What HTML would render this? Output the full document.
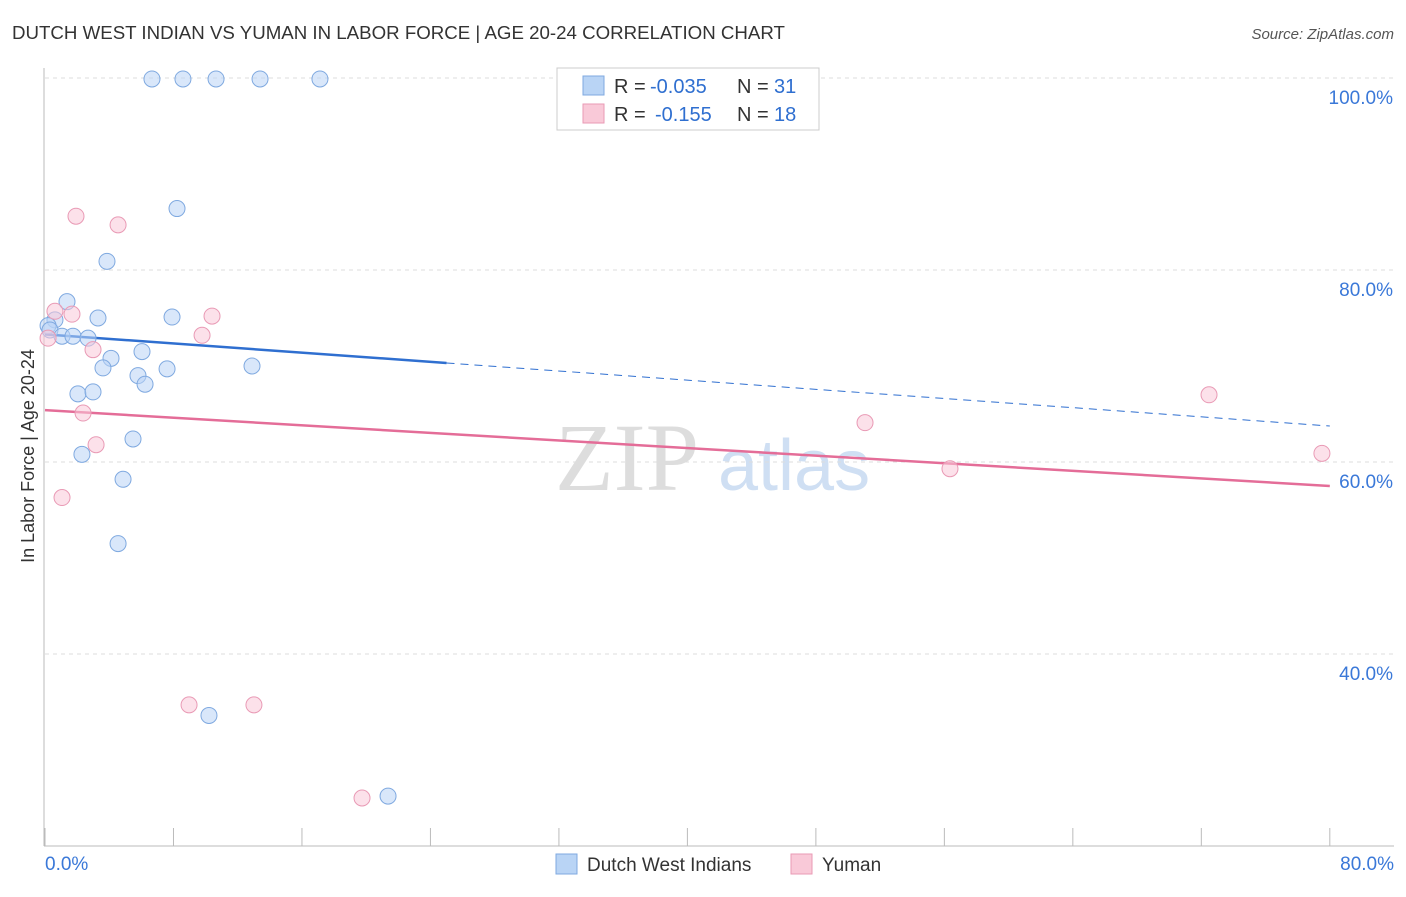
<!DOCTYPE html>
<html><head><meta charset="utf-8"><style>
body{margin:0;background:#fff;font-family:"Liberation Sans",sans-serif}
</style></head><body>
<svg id="chart" width="1406" height="892" xmlns="http://www.w3.org/2000/svg" font-family="Liberation Sans, sans-serif">
<text x="12" y="39" font-size="18.7" fill="#333">DUTCH WEST INDIAN VS YUMAN IN LABOR FORCE | AGE 20-24 CORRELATION CHART</text>
<text x="1394" y="39" font-size="15" fill="#555" text-anchor="end" font-style="italic">Source: ZipAtlas.com</text>
<text x="555" y="490" font-size="96" fill="#ddd" font-family="Liberation Serif, serif">ZIP</text>
<text x="718" y="490" font-size="72" fill="#cfdff3">atlas</text>
<text transform="translate(34,456) rotate(-90)" font-size="18" fill="#333" text-anchor="middle">In Labor Force | Age 20-24</text>
<g id="grid"></g><g id="trends"></g><g id="points"></g>
<g>
<rect x="557" y="68" width="262" height="62" fill="#fff" stroke="#ccc"/>
<rect x="583" y="76" width="21" height="19" fill="#b9d4f5" stroke="#7fa9e0"/>
<rect x="583" y="104" width="21" height="19" fill="#f9c9d8" stroke="#e99ab5"/>
<text x="614" y="93" font-size="20" fill="#333">R =</text>
<text x="650" y="93" font-size="20" fill="#2f6fd0">-0.035</text>
<text x="737" y="93" font-size="20" fill="#333">N =</text>
<text x="774" y="93" font-size="20" fill="#2f6fd0">31</text>
<text x="614" y="121" font-size="20" fill="#333">R =</text>
<text x="655" y="121" font-size="20" fill="#2f6fd0">-0.155</text>
<text x="737" y="121" font-size="20" fill="#333">N =</text>
<text x="774" y="121" font-size="20" fill="#2f6fd0">18</text>
</g>
<g>
<rect x="556" y="854" width="21" height="20" fill="#b9d4f5" stroke="#7fa9e0"/>
<text x="587" y="871" font-size="19" fill="#333">Dutch West Indians</text>
<rect x="791" y="854" width="21" height="20" fill="#f9c9d8" stroke="#e99ab5"/>
<text x="822" y="871" font-size="19" fill="#333">Yuman</text>
</g>
</svg>
<script>
const blueX=[6.66,8.59,10.65,13.39,17.12,8.22,3.86,1.37,3.30,7.91,0.62,0.19,0.31,1.06,1.74,2.68,4.11,6.04,3.61,7.60,5.79,6.23,12.89,2.05,2.99,5.48,2.30,4.86,4.55,10.21,21.36];
const blueY=[99.9,99.9,99.9,99.9,99.9,86.4,80.9,76.7,75.0,75.1,74.8,74.2,73.75,73.1,73.1,72.9,70.8,71.5,69.8,69.7,69.0,68.1,70.0,67.1,67.3,62.4,60.8,58.2,51.5,33.6,25.2];
const pinkX=[1.93,4.55,0.62,1.68,10.40,9.78,2.99,0.19,2.37,3.18,1.06,8.97,13.01,19.74,51.06,56.35,72.48,79.51];
const pinkY=[85.6,84.7,75.7,75.4,75.2,73.2,71.7,72.9,65.1,61.8,56.3,34.7,34.7,25.0,64.1,59.3,67.0,60.9];
const yTicks=[40,60,80,100];
const xTickLabels=["0.0%","80.0%"];
const blueTrend=[73.3,63.75];
const pinkTrend=[65.4,57.5];
const blueSolidEnd=25;
const NS="http://www.w3.org/2000/svg";
const sx=v=>45+v*16.06, sy=v=>78+(100-v)*9.6;
function mk(tag,attrs,parent){const e=document.createElementNS(NS,tag);for(const k in attrs)e.setAttribute(k,attrs[k]);document.getElementById(parent).appendChild(e);return e;}
yTicks.forEach(t=>{
 const l=mk('line',{x1:45,x2:1394,y1:sy(t),y2:sy(t),stroke:'#ddd','stroke-dasharray':'4,4'},'grid');
 
 
 const tx=mk('text',{x:1393,y:sy(t)+26,'font-size':19,fill:'#3a78d8','text-anchor':'end'},'grid');
 tx.textContent=t.toFixed(1)+'%';
 
 
});
const ax=mk('line',{x1:44,x2:44,y1:68,y2:846,stroke:'#bbb'},'grid');


const bx=mk('line',{x1:44,x2:1394,y1:846,y2:846,stroke:'#bbb'},'grid');


for(let i=0;i<=10;i++){const t=mk('line',{x1:sx(i*8),x2:sx(i*8),y1:828,y2:846,stroke:'#bbb'},'grid');
 
 }
[[0,45,'start'],[80,1394,'end']].forEach((p,i)=>{const t=mk('text',{x:p[1],y:870,'font-size':19,fill:'#3a78d8','text-anchor':p[2]},'grid');t.textContent=xTickLabels[i];
 
 });
function ty(tr,x){return tr[0]+(tr[1]-tr[0])*x/80;}
let l1=mk('line',{x1:sx(0),y1:sy(ty(blueTrend,0)),x2:sx(blueSolidEnd),y2:sy(ty(blueTrend,blueSolidEnd)),stroke:'#2f6fd0','stroke-width':2.5},'trends');


let l2=mk('line',{x1:sx(blueSolidEnd),y1:sy(ty(blueTrend,blueSolidEnd)),x2:sx(80),y2:sy(ty(blueTrend,80)),stroke:'#2f6fd0','stroke-width':1,'stroke-dasharray':'8,6'},'trends');


let l3=mk('line',{x1:sx(0),y1:sy(ty(pinkTrend,0)),x2:sx(80),y2:sy(ty(pinkTrend,80)),stroke:'#e46d98','stroke-width':2.5},'trends');


function pts(X,Y,fill,stroke,name){X.forEach((x,i)=>{const c=mk('circle',{cx:sx(x),cy:sy(Y[i]),r:8,fill:fill,'fill-opacity':0.55,stroke:stroke,'stroke-width':1},'points');
 
 });}
pts(blueX,blueY,'#b9d4f5','#7fa9e0','dutch-west-indian-point');
pts(pinkX,pinkY,'#f9c9d8','#e99ab5','yuman-point');
</script>
</body></html>
